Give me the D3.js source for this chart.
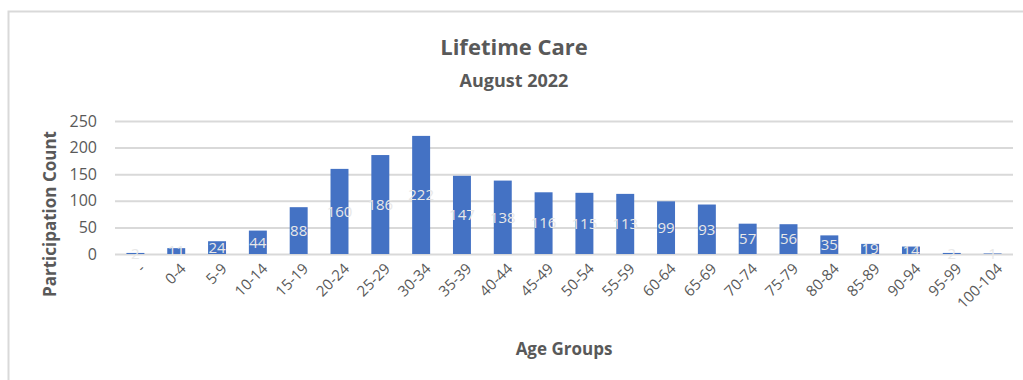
<!DOCTYPE html>
<html>
<head>
<meta charset="utf-8">
<script src="https://cdn.jsdelivr.net/npm/d3@7"></script>
<style>
  html, body { margin: 0; padding: 0; background: #fff; }
  svg { display: block; font-family: "Open Sans", sans-serif; }
</style>
</head>
<body>
<svg id="chart" width="1023" height="380"></svg>
<script>
// Participation counts by age group
const ageGroups = ["-", "0-4", "5-9", "10-14", "15-19", "20-24", "25-29", "30-34", "35-39", "40-44",
  "45-49", "50-54", "55-59", "60-64", "65-69", "70-74", "75-79", "80-84", "85-89", "90-94",
  "95-99", "100-104"];
const participation = [2, 11, 24, 44, 88, 160, 186, 222, 147, 138, 116, 115, 113, 99, 93, 57, 56, 35, 19, 14, 2, 1];
const yTicks = [0, 50, 100, 150, 200, 250];

const titleText = "Lifetime Care";
const subtitleText = "August 2022";
const xTitle = "Age Groups";
const yTitle = "Participation Count";

const svg = d3.select("#chart");
const textColor = "#595959";

// Chart area frame
svg.append("rect")
  .attr("x", 8.5).attr("y", 11.5)
  .attr("width", 1040).attr("height", 400)
  .attr("fill", "#fff")
  .attr("stroke", "#d9d9d9").attr("stroke-width", 2);

const plot = { left: 115, right: 1013, top: 121, bottom: 254 };

const x = d3.scaleBand()
  .domain(ageGroups)
  .range([plot.left, plot.right])
  .paddingInner(0.56)
  .paddingOuter(0.28);

const y = d3.scaleLinear()
  .domain([0, 250])
  .range([plot.bottom, plot.top]);

// Gridlines and value labels on the left
const yAxis = d3.axisLeft(y)
  .tickValues(yTicks)
  .tickSize(-(plot.right - plot.left))
  .tickPadding(18);

const gy = svg.append("g")
  .attr("transform", `translate(${plot.left},0)`)
  .call(yAxis);
gy.select(".domain").remove();
gy.selectAll(".tick line").attr("stroke", "#d9d9d9").attr("stroke-width", 2);
gy.selectAll(".tick text")
  .attr("fill", textColor)
  .style("font-size", "16px")
  .style("font-family", "'Open Sans', sans-serif");

// Bars
svg.append("g").selectAll("rect")
  .data(participation)
  .join("rect")
  .attr("x", (d, i) => x(ageGroups[i]))
  .attr("width", x.bandwidth())
  .attr("y", d => y(d))
  .attr("height", d => y(0) - y(d))
  .attr("fill", "#4472c4");

// Value labels centred in each bar
svg.append("g").selectAll("text")
  .data(participation)
  .join("text")
  .attr("x", (d, i) => x(ageGroups[i]) + x.bandwidth() / 2)
  .attr("y", d => (y(d) + y(0)) / 2)
  .attr("text-anchor", "middle")
  .attr("dy", "0.35em")
  .attr("fill", "#e8e8e8")
  .style("font-size", "15px")
  .text(d => d);

// Category labels, rotated
const xAxis = d3.axisBottom(x).tickSize(0).tickPadding(0);
const gx = svg.append("g")
  .attr("transform", `translate(0,${plot.bottom})`)
  .call(xAxis);
gx.select(".domain").remove();
gx.selectAll(".tick text")
  .attr("fill", textColor)
  .style("font-size", "15px")
  .style("font-family", "'Open Sans', sans-serif")
  .attr("text-anchor", "end")
  .attr("x", 0).attr("y", 0).attr("dy", "0.35em")
  .attr("transform", "translate(7,12) rotate(-45)");

// Titles
svg.append("text")
  .attr("x", 514).attr("y", 55)
  .attr("text-anchor", "middle")
  .attr("fill", textColor)
  .style("font-size", "22px").style("font-weight", 700)
  .text(titleText);

svg.append("text")
  .attr("x", 514).attr("y", 87)
  .attr("text-anchor", "middle")
  .attr("fill", textColor)
  .style("font-size", "18px").style("font-weight", 700)
  .text(subtitleText);

svg.append("text")
  .attr("x", (plot.left + plot.right) / 2).attr("y", 355)
  .attr("text-anchor", "middle")
  .attr("fill", textColor)
  .style("font-size", "17px").style("font-weight", 700)
  .text(xTitle);

svg.append("text")
  .attr("transform", `translate(56,${214}) rotate(-90)`)
  .attr("text-anchor", "middle")
  .attr("fill", textColor)
  .style("font-size", "17px").style("font-weight", 700)
  .text(yTitle);
</script>
</body>
</html>
